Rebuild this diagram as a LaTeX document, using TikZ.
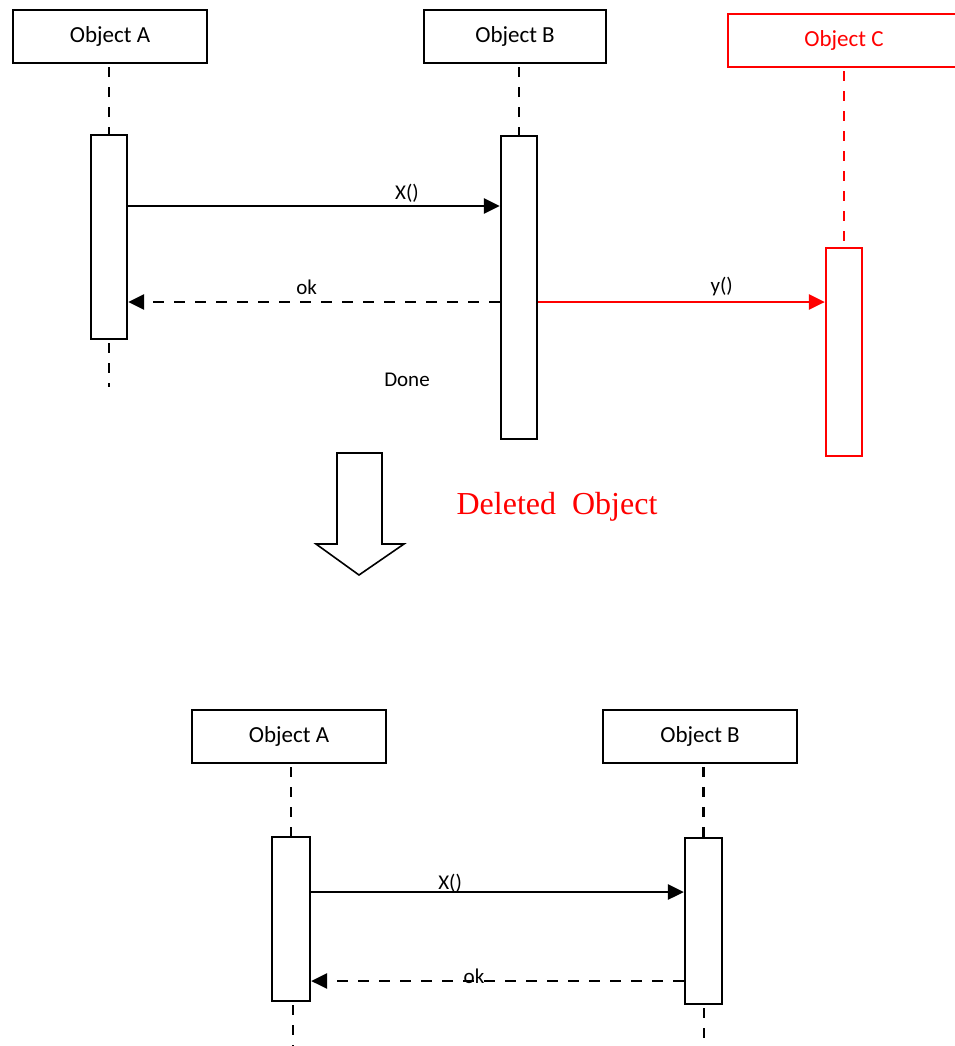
\documentclass[tikz,border=0pt]{standalone}
\usepackage{fontspec}
\setmainfont{Carlito}
\newfontfamily\serifdel{Liberation Serif}
\usetikzlibrary{arrows.meta,calc}
\definecolor{objred}{RGB}{255,0,0}
\begin{document}
\begin{tikzpicture}[x=1pt,y=-1pt,
  objbox/.style={draw, line width=2.2pt, minimum width=194pt, minimum height=53pt, inner sep=0pt, font=\fontsize{23}{27}\selectfont},
  actbox/.style={draw, line width=2.2pt, minimum width=36pt, inner sep=0pt, fill=white},
  life/.style={line width=2.8pt, dash pattern=on 10pt off 10pt},
  msg/.style={line width=2.8pt, -{Triangle[length=16pt,width=15pt]}},
  reply/.style={msg, dash pattern=on 11pt off 10pt},
  lbl/.style={font=\fontsize{21}{25}\selectfont, inner sep=0pt},
  blockarrow/.style={line width=1.6pt, line join=miter},
]
\useasboundingbox (0,0) rectangle (955,1046);
\clip (0,0) rectangle (955,1046);

% ---------- top diagram ----------
\node[objbox] (A) at (110,36.5) {Object A};
\node[objbox, minimum width=182pt] (B) at (515,36.5) {Object B};
\node[objbox, draw=objred, text=objred, minimum width=232pt] (C) at (844,40.5) {Object C};

\node[actbox, minimum height=204pt] (Aa) at (109,237) {};
\node[actbox, minimum height=303pt] (Ba) at (519,287.5) {};
\node[actbox, draw=objred, minimum height=208pt] (Ca) at (844,352) {};

\draw[life, shorten <=3pt] (Aa.north |- A.south) -- (Aa.north);
\coordinate (Aend) at (109,387);
\draw[life, shorten <=3pt] (Aa.south) -- (Aend);
\draw[life, shorten <=3pt] (Ba.north |- B.south) -- (Ba.north);
\draw[life, objred, shorten <=3pt] (Ca.north |- C.south) -- (Ca.north);

\draw[msg] (Aa.east |- 0,206) -- (Ba.west |- 0,206) node[lbl, pos=0.75, yshift=13pt]{X()};
\draw[reply] (Ba.west |- 0,302) -- (Aa.east |- 0,302) node[lbl, pos=0.52, yshift=15pt]{ok};
\draw[msg, objred] (Ba.east |- 0,302) -- (Ca.west |- 0,302) node[lbl, text=black, pos=0.64, yshift=15pt]{y()};

\node[lbl] (done) at (407,380) {Done};

% ---------- transition ----------
\draw[blockarrow] (337,453) -- (382,453) -- (382,544) -- (404,544) -- (359,575) -- (316,544) -- (337,544) -- cycle;
\node[text=objred, font=\serifdel\fontsize{32}{37}\selectfont, inner sep=0pt] (del) at (557,507) {Deleted\ \ Object};

% ---------- bottom diagram ----------
\node[objbox] (A2) at (289,736.5) {Object A};
\node[objbox] (B2) at (700,736.5) {Object B};

\node[actbox, minimum width=38pt, minimum height=164pt] (A2a) at (291,919) {};
\node[actbox, minimum width=37pt, minimum height=166pt] (B2a) at (703.5,921) {};

\draw[life, shorten <=3pt] (A2a.north |- A2.south) -- (A2a.north);
\draw[life, shorten <=3pt] (B2a.north |- B2.south) -- (B2a.north);
\coordinate (A2end) at (293,1046);
\coordinate (B2end) at (704,1046);
\draw[life, shorten <=3pt] (A2a.south -| A2end) -- (A2end);
\draw[life, shorten <=3pt] (B2a.south -| B2end) -- (B2end);

\draw[msg] (A2a.east |- 0,892) -- (B2a.west |- 0,892) node[lbl, pos=0.373, yshift=9pt]{X()};
\draw[reply] (B2a.west |- 0,981) -- (A2a.east |- 0,981) node[lbl, pos=0.563, yshift=5pt]{ok};
\end{tikzpicture}
\end{document}
